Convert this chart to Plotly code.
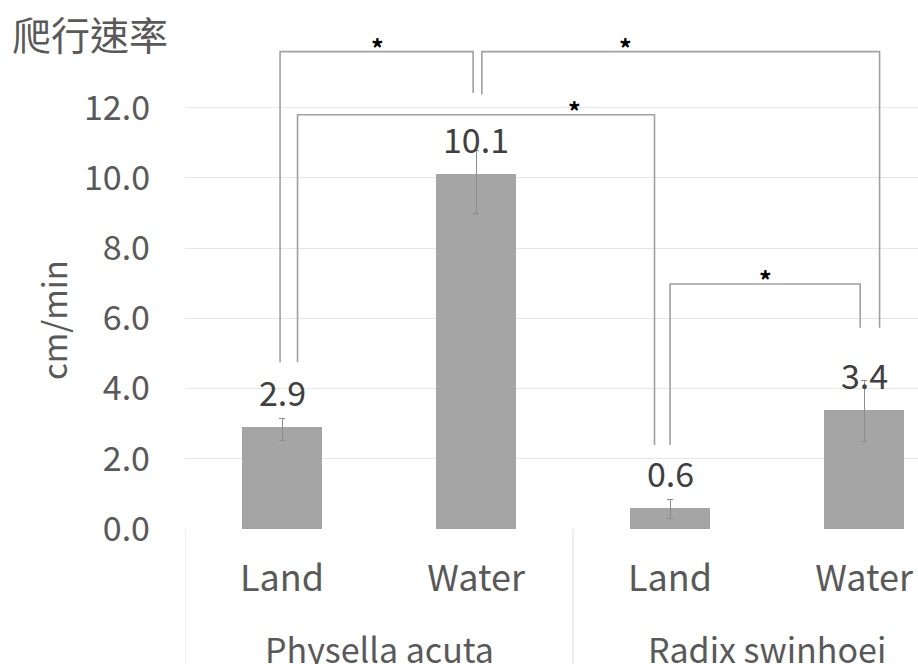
import plotly.graph_objects as go

species = ["Physella acuta", "Radix swinhoei"]
conditions = ["Land", "Water", "Land", "Water"]
speed = [2.9, 10.1, 0.6, 3.4]          # cm/min
err_plus = [0.26, 0.68, 0.25, 0.83]
err_minus = [0.37, 1.10, 0.30, 0.91]
y_ticks = [0, 2, 4, 6, 8, 10, 12]

# significance brackets: (left leg x, right leg x, top, left leg end, right leg end, star x)
brackets = [
    (-0.01, 0.985, 13.6, 4.75, 12.42, 0.49),
    (1.03, 3.08, 13.6, 12.38, 5.73, 1.77),
    (0.08, 1.92, 11.8, 4.75, 2.39, 1.51),
    (2.0, 2.98, 6.98, 2.39, 5.73, 2.49),
]

FONT = "Noto Sans CJK TC"
GREY_TXT = "#595959"

x = list(range(len(speed)))

fig = go.Figure()
fig.add_trace(
    go.Bar(
        x=x,
        y=speed,
        width=0.41,
        marker=dict(color="#a5a5a5", line=dict(width=0)),
        error_y=dict(
            type="data",
            symmetric=False,
            array=err_plus,
            arrayminus=err_minus,
            color="#8c8c8c",
            thickness=1,
            width=3,
        ),
        hoverinfo="skip",
    )
)

# value labels above the bars
for xi, v in zip(x, speed):
    fig.add_annotation(
        x=xi, y=v, text=f"{v:.1f}", showarrow=False,
        yanchor="bottom", yshift=9,
        font=dict(family=FONT, size=34, color="#404040"),
    )

# brackets + stars
for x0, x1, top, e0, e1, sx in brackets:
    fig.add_shape(
        type="path",
        path=f"M {x0},{e0} L {x0},{top} L {x1},{top} L {x1},{e1}",
        xref="x", yref="y",
        line=dict(color="#a0a0a0", width=1.6),
    )
    fig.add_annotation(
        x=sx, y=top, text="<b>*</b>", showarrow=False,
        yanchor="middle", yshift=5,
        font=dict(family=FONT, size=25, color="#000000"),
    )

# category group dividers
for xd in [-0.5, 1.5]:
    fig.add_shape(
        type="line", xref="x", yref="paper",
        x0=xd, x1=xd, y0=0, y1=-0.3,
        line=dict(color="#dedede", width=1),
    )

for k, name in enumerate(species):
    fig.add_annotation(
        x=2 * k + 0.5, xref="x", y=-0.225, yref="paper",
        text=name, showarrow=False, yanchor="middle",
        font=dict(family=FONT, size=34, color=GREY_TXT),
    )

# y axis title
fig.add_annotation(
    x=-0.18, xref="paper", y=0.395, yref="paper",
    xanchor="center", yanchor="middle",
    text="cm/min", textangle=-90, showarrow=False,
    font=dict(family=FONT, size=33, color=GREY_TXT),
)

fig.update_layout(
    width=918,
    height=664,
    margin=dict(l=185, r=0, t=0, b=135),
    plot_bgcolor="white",
    paper_bgcolor="white",
    showlegend=False,
    bargap=0,
    title=dict(
        text="爬行速率",
        x=12 / 918, xanchor="left", xref="container",
        y=1 - 36 / 664, yanchor="middle", yref="container",
        font=dict(family=FONT, size=39, color=GREY_TXT),
    ),
    xaxis=dict(
        range=[-0.5, 3.278],
        tickvals=x,
        ticktext=conditions,
        showgrid=False,
        zeroline=False,
        showline=False,
        ticks="",
        ticklabelstandoff=25,
        tickfont=dict(family=FONT, size=36, color=GREY_TXT),
    ),
    yaxis=dict(
        range=[0, 15.07],
        tickvals=y_ticks,
        tickformat=".1f",
        showgrid=True,
        gridcolor="#e6e6e6",
        gridwidth=1,
        zeroline=False,
        showline=False,
        ticks="",
        ticklabelstandoff=34,
        tickfont=dict(family=FONT, size=34, color=GREY_TXT),
    ),
)

fig.write_html(
    "out.html",
    config={"displayModeBar": False},
    post_script="document.body.style.margin='0';",
)
